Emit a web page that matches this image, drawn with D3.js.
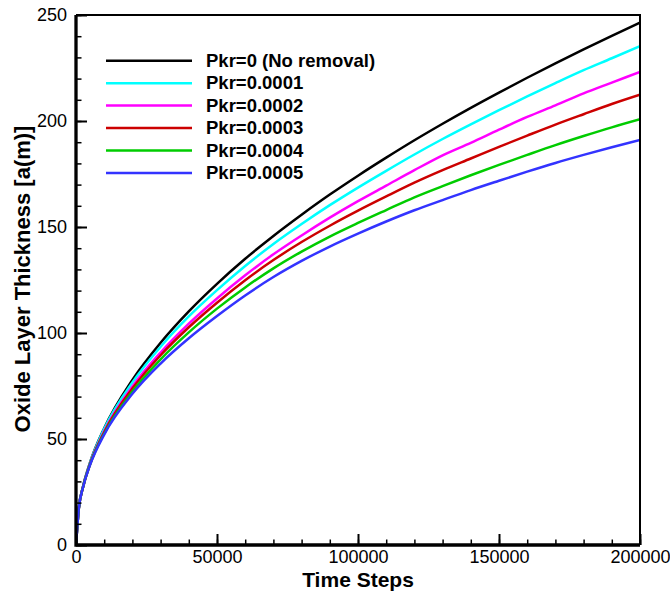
<!DOCTYPE html>
<html>
<head>
<meta charset="utf-8">
<script src="https://cdn.jsdelivr.net/npm/d3@7"></script>
<style>
  body { margin: 0; background: #fff; }
  text { font-family: Arial, "Liberation Sans", sans-serif; }
</style>
</head>
<body>
<script>
// time steps sampled along the curves
var steps = [0, 1000, 2500, 5000, 10000, 20000, 30000, 40000, 50000, 60000, 70000, 80000,
             90000, 100000, 110000, 120000, 130000, 140000, 150000, 160000, 170000, 180000, 190000, 200000];

var pkr0    = [0, 17.4, 27.6, 39.0, 55.1, 77.9, 95.4, 110.2, 123.2, 135.0, 145.8, 155.8,
               165.3, 174.2, 182.7, 190.9, 198.7, 206.2, 213.4, 220.4, 227.2, 233.8, 240.2, 246.4];
var pkr0001 = [0, 17.4, 27.5, 38.8, 54.8, 76.7, 93.5, 107.8, 120.2, 131.6, 142.0, 151.4,
               160.3, 168.6, 176.5, 184.2, 191.5, 198.4, 205.1, 211.6, 217.9, 224.0, 229.6, 235.3];
var pkr0002 = [0, 17.4, 27.4, 38.4, 53.7, 74.8, 90.8, 104.4, 116.3, 127.2, 137.1, 146.0,
               154.4, 162.2, 169.5, 176.8, 183.8, 189.7, 195.9, 201.9, 207.4, 213.0, 218.1, 223.2];
var pkr0003 = [0, 17.3, 27.3, 38.2, 53.2, 73.8, 89.5, 102.7, 114.3, 124.9, 134.4, 142.9,
               150.6, 157.7, 164.4, 170.9, 176.8, 182.3, 187.8, 193.1, 198.3, 203.2, 208.0, 212.4];
var pkr0004 = [0, 17.3, 27.3, 38.0, 52.6, 72.4, 87.6, 100.3, 111.5, 121.5, 130.5, 138.4,
               145.5, 151.9, 158.0, 164.0, 169.3, 174.4, 179.3, 184.0, 188.6, 192.9, 197.0, 200.8];
var pkr0005 = [0, 17.3, 27.2, 37.8, 52.1, 71.3, 85.6, 97.5, 108.0, 117.7, 126.4, 134.0,
               140.8, 146.9, 152.6, 157.9, 162.7, 167.4, 171.8, 176.1, 180.2, 184.0, 187.6, 191.0];

var seriesNames = ["Pkr=0 (No removal)", "Pkr=0.0001", "Pkr=0.0002", "Pkr=0.0003", "Pkr=0.0004", "Pkr=0.0005"];
var seriesValues = [pkr0, pkr0001, pkr0002, pkr0003, pkr0004, pkr0005];
var colors = ["#000000", "#00ffff", "#ff00ff", "#cc0000", "#00cc00", "#3333ff"];

var xTicks = [0, 50000, 100000, 150000, 200000];
var yTicks = [0, 50, 100, 150, 200, 250];

var W = 670, H = 591;
var margin = {top: 15, right: 30, bottom: 46, left: 76}
  , width = W - margin.left - margin.right
  , height = H - margin.top - margin.bottom;

var svg = d3.select("body").append("svg")
    .attr("width", W)
    .attr("height", H)
  .append("g")
    .attr("transform", "translate(" + margin.left + "," + margin.top + ")");

var x = d3.scaleLinear().domain([0, 200000]).range([0, width]);
var y = d3.scaleLinear().domain([0, 250]).range([height, 0]);

svg.append("clipPath").attr("id", "clip")
  .append("rect").attr("width", width).attr("height", height);

// curves
var line = d3.line()
    .x(function(d) { return x(d[0]); })
    .y(function(d) { return y(d[1]); })
    .curve(d3.curveMonotoneX);

seriesValues.forEach(function(vals, i) {
    svg.append("path")
        .datum(steps.map(function(t, j) { return [t, vals[j]]; }))
        .attr("clip-path", "url(#clip)")
        .attr("fill", "none")
        .attr("stroke", colors[i])
        .attr("stroke-width", 2.5)
        .attr("d", line);
});

// frame (top and right)
svg.append("path")
    .attr("d", "M0,0H" + width + "V" + height)
    .attr("fill", "none")
    .attr("stroke", "#000")
    .attr("stroke-width", 2);

// minor ticks
svg.append("g")
    .attr("transform", "translate(0," + height + ")")
    .call(d3.axisBottom(x).tickValues(d3.range(0, 200001, 10000)).tickSize(-5.5).tickFormat(""))
    .call(function(g) { g.select(".domain").remove(); g.selectAll("line").attr("stroke-width", 1.5); });
svg.append("g")
    .call(d3.axisLeft(y).tickValues(d3.range(0, 251, 10)).tickSize(-5.5).tickFormat(""))
    .call(function(g) { g.select(".domain").remove(); g.selectAll("line").attr("stroke-width", 1.5); });

// major ticks and labels
var xAxis = svg.append("g")
    .attr("transform", "translate(0," + height + ")")
    .call(d3.axisBottom(x).tickValues(xTicks).tickSize(-11).tickPadding(5.5).tickFormat(d3.format("d")));
var yAxis = svg.append("g")
    .call(d3.axisLeft(y).tickValues(yTicks).tickSize(-11).tickPadding(9).tickFormat(d3.format("d")));

[xAxis, yAxis].forEach(function(g) {
    g.select(".domain").remove();
    g.selectAll(".tick line").attr("stroke-width", 2);
    g.selectAll("text").style("font-size", "18px").attr("fill", "#000")
        .style("font-family", "Arial, 'Liberation Sans', sans-serif");
});
svg.append("path")
    .attr("d", "M0,0V" + height + "H" + width)
    .attr("fill", "none")
    .attr("stroke", "#000")
    .attr("stroke-width", 3.3);

// axis titles
svg.append("text")
    .attr("text-anchor", "middle")
    .attr("x", 358 - margin.left)
    .attr("y", 586.5 - margin.top)
    .style("font-size", "21px")
    .style("font-weight", "bold")
    .text("Time Steps");

svg.append("text")
    .attr("text-anchor", "middle")
    .attr("transform", "translate(" + (30 - margin.left) + "," + (279 - margin.top) + ")rotate(-90)")
    .style("font-size", "22px")
    .style("font-weight", "bold")
    .text("Oxide Layer Thickness [a(m)]");

// legend
var legend = svg.append("g").attr("class", "legend");
seriesNames.forEach(function(name, i) {
    var ly = 60.7 - margin.top + i * 22.45;
    legend.append("line")
        .attr("x1", 106 - margin.left)
        .attr("x2", 192 - margin.left)
        .attr("y1", ly)
        .attr("y2", ly)
        .attr("stroke", colors[i])
        .attr("stroke-width", 2.5);
    legend.append("text")
        .attr("x", 206 - margin.left)
        .attr("y", ly + 6)
        .style("font-size", "18.5px")
        .style("font-weight", "bold")
        .text(name);
});
</script>
</body>
</html>
